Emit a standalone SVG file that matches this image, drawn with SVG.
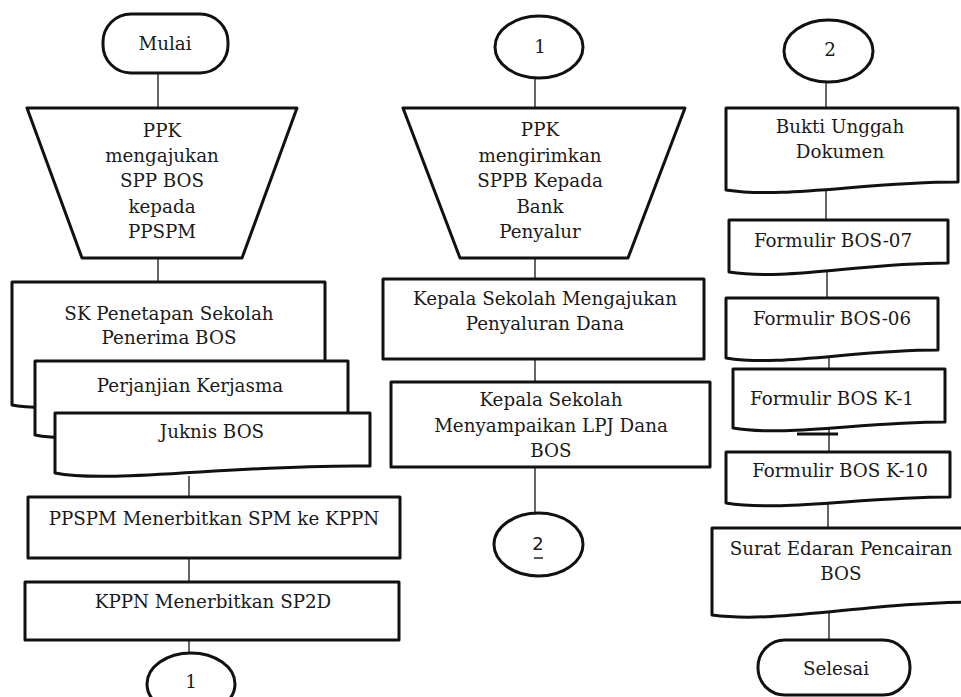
<svg xmlns="http://www.w3.org/2000/svg" width="961" height="697" viewBox="0 0 961 697">
<defs>
<style>
.s{fill:#fff;stroke:#111;stroke-width:3;stroke-linejoin:round}
.c{stroke:#333;stroke-width:1.5;fill:none}
.t{font-family:"DejaVu Serif","Liberation Serif",serif;font-size:18.3px;fill:#1a1a1a;text-anchor:middle}
.n{font-family:"DejaVu Sans","Liberation Sans",sans-serif;font-size:18px;fill:#1a1a1a;text-anchor:middle}
</style>
</defs>
<rect width="961" height="697" fill="#fff"/>
<g id="connectors">
<line class="c" x1="158" y1="73" x2="158" y2="108"/>
<line class="c" x1="158" y1="258" x2="158" y2="283"/>
<line class="c" x1="189" y1="476" x2="189" y2="497"/>
<line class="c" x1="189" y1="558" x2="189" y2="582"/>
<line class="c" x1="189" y1="640" x2="189" y2="653"/>
<line class="c" x1="535" y1="78" x2="535" y2="108"/>
<line class="c" x1="535" y1="258" x2="535" y2="279"/>
<line class="c" x1="535" y1="359" x2="535" y2="382"/>
<line class="c" x1="535" y1="467" x2="535" y2="513"/>
<line class="c" x1="826" y1="82" x2="826" y2="108"/>
<line class="c" x1="826" y1="190" x2="826" y2="220"/>
<line class="c" x1="827" y1="270" x2="827" y2="298"/>
<line class="c" x1="829" y1="356" x2="829" y2="369"/>
<line class="c" x1="829" y1="428" x2="829" y2="452"/>
<line class="c" x1="828" y1="501" x2="828" y2="528"/>
<line class="c" x1="829" y1="612" x2="829" y2="640"/>
<line x1="797" y1="434" x2="838" y2="434" stroke="#111" stroke-width="3"/>
</g>
<g id="mulai">
<rect class="s" x="103" y="14" width="125" height="59" rx="28"/>
<text class="t" x="165" y="50">Mulai</text>
</g>
<g id="ppk-mengajukan">
<polygon class="s" points="27,108 297,108 242,258 82,258"/>
<text class="t" x="162" y="137">PPK</text>
<text class="t" x="162" y="162">mengajukan</text>
<text class="t" x="162" y="187">SPP BOS</text>
<text class="t" x="162" y="213">kepada</text>
<text class="t" x="162" y="238">PPSPM</text>
</g>
<g id="sk-penetapan">
<path class="s" d="M12,282 H325 V395 C200,395 50,414 12,405 Z"/>
<text class="t" x="169" y="320">SK Penetapan Sekolah</text>
<text class="t" x="169" y="344">Penerima BOS</text>
</g>
<g id="perjanjian">
<path class="s" d="M35,361 H348 V425 C220,425 80,445 35,435 Z"/>
<text class="t" x="190" y="392">Perjanjian Kerjasma</text>
</g>
<g id="juknis">
<path class="s" d="M55,413 H370 V466 C240,464 110,484 55,473 Z"/>
<text class="t" x="212" y="438">Juknis BOS</text>
</g>
<g id="ppspm">
<rect class="s" x="28" y="497" width="372" height="61"/>
<text class="t" x="214" y="525">PPSPM Menerbitkan SPM ke KPPN</text>
</g>
<g id="kppn">
<rect class="s" x="25" y="582" width="374" height="58"/>
<text class="t" x="213" y="608">KPPN Menerbitkan SP2D</text>
</g>
<g id="con1-out">
<ellipse class="s" cx="191" cy="684" rx="44" ry="31"/>
<text class="t" x="191" y="688">1</text>
</g>
<g id="con1-in">
<ellipse class="s" cx="539" cy="47" rx="44" ry="31"/>
<text class="t" x="540" y="53">1</text>
</g>
<g id="ppk-mengirimkan">
<polygon class="s" points="403,108 685,108 628,258 460,258"/>
<text class="t" x="540" y="136">PPK</text>
<text class="t" x="540" y="162">mengirimkan</text>
<text class="t" x="540" y="187">SPPB Kepada</text>
<text class="t" x="540" y="213">Bank</text>
<text class="t" x="540" y="238">Penyalur</text>
</g>
<g id="kepsek-mengajukan">
<rect class="s" x="383" y="279" width="321" height="80"/>
<text class="t" x="545" y="305">Kepala Sekolah Mengajukan</text>
<text class="t" x="545" y="330">Penyaluran Dana</text>
</g>
<g id="kepsek-lpj">
<rect class="s" x="391" y="382" width="319" height="85"/>
<text class="t" x="551" y="406">Kepala Sekolah</text>
<text class="t" x="551" y="432">Menyampaikan LPJ Dana</text>
<text class="t" x="551" y="457">BOS</text>
</g>
<g id="con2-out">
<ellipse class="s" cx="538.5" cy="544.5" rx="44.5" ry="31.5"/>
<text class="n" x="538" y="550">2</text>
<line x1="534" y1="558" x2="543" y2="558" stroke="#222" stroke-width="1.5"/>
</g>
<g id="con2-in">
<ellipse class="s" cx="828.5" cy="51" rx="44.5" ry="31"/>
<text class="t" x="830" y="56">2</text>
</g>
<g id="bukti-unggah">
<path class="s" d="M726,108 H958 V182 C865,182 785,199 726,190 Z"/>
<text class="t" x="840" y="133">Bukti Unggah</text>
<text class="t" x="840" y="158">Dokumen</text>
</g>
<g id="bos-07">
<path class="s" d="M729,220 H948 V263 C860,263 785,281 729,272 Z"/>
<text class="t" x="833" y="247">Formulir BOS-07</text>
</g>
<g id="bos-06">
<path class="s" d="M726,298 H938 V350 C853,350 780,367 726,358 Z"/>
<text class="t" x="832" y="325">Formulir BOS-06</text>
</g>
<g id="bos-k1">
<path class="s" d="M733,369 H945 V422 C860,422 787,437 733,428 Z"/>
<text class="t" x="832" y="405">Formulir BOS K-1</text>
</g>
<g id="bos-k10">
<path class="s" d="M726,452 H950 V497 C860,497 782,512 726,503 Z"/>
<text class="t" x="840" y="477">Formulir BOS K-10</text>
</g>
<g id="surat-edaran">
<path class="s" d="M712,528 H975 V602 C870,602 778,624 712,615 Z"/>
<text class="t" x="841" y="555">Surat Edaran Pencairan</text>
<text class="t" x="841" y="580">BOS</text>
</g>
<g id="selesai">
<rect class="s" x="758" y="640" width="152" height="55" rx="27"/>
<text class="t" x="836" y="675">Selesai</text>
</g>
</svg>
